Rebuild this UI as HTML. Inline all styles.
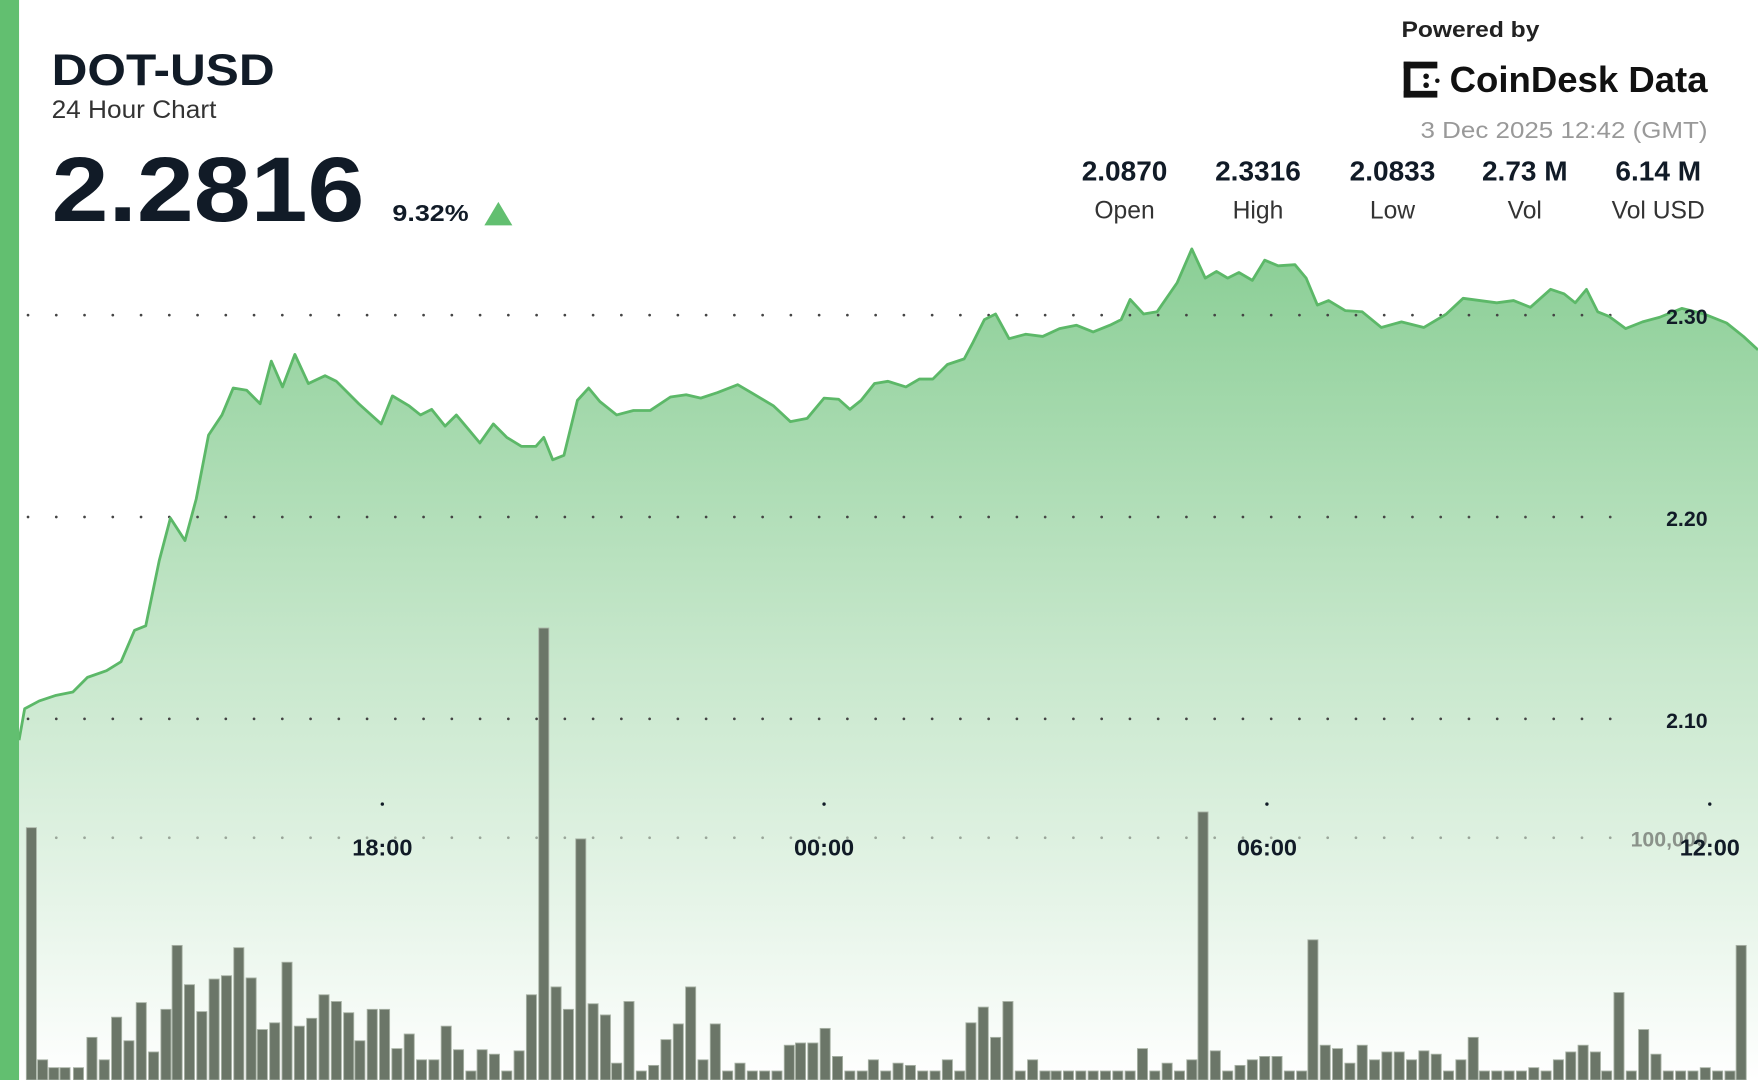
<!DOCTYPE html>
<html><head><meta charset="utf-8"><style>
html,body{margin:0;padding:0;background:#fff;}
svg{display:block;}
text{font-family:"Liberation Sans",sans-serif;}
</style></head><body>
<svg id="s" width="1758" height="1080" viewBox="0 0 1568 963" preserveAspectRatio="none" xmlns="http://www.w3.org/2000/svg">
<defs>
<linearGradient id="fill" x1="0" y1="220" x2="0" y2="963" gradientUnits="userSpaceOnUse">
<stop offset="0" stop-color="#80ca8c" stop-opacity="0.92"/>
<stop offset="0.5" stop-color="#c2e5c7" stop-opacity="0.9"/>
<stop offset="1" stop-color="#ffffff" stop-opacity="1"/>
</linearGradient>
</defs>
<rect width="1568" height="963" fill="#fff"/>
<path id="area" fill="url(#fill)"/>
<g id="grid"></g>
<g id="bars"></g>
<path id="line" fill="none" stroke="#5cb868" stroke-width="2.5" stroke-linejoin="round"/>
<rect x="0" y="0" width="17" height="963" fill="#62bf70"/>
<g fill="#111b27" font-weight="bold" font-size="19" text-anchor="end">
<text x="1523" y="289">2.30</text><text x="1523" y="469">2.20</text><text x="1523" y="649">2.10</text>
</g>
<text x="1523" y="755" text-anchor="end" font-size="19" font-weight="bold" fill="#8a928a">100,000</text>
<g fill="#111b27" font-weight="bold" font-size="21" text-anchor="middle">
<text x="341" y="763">18:00</text><text x="735" y="763">00:00</text><text x="1130" y="763">06:00</text><text x="1525" y="763">12:00</text>
</g>
<g fill="#111b27"><circle cx="341" cy="717" r="1.5"/><circle cx="735" cy="717" r="1.5"/><circle cx="1130" cy="717" r="1.5"/><circle cx="1525" cy="717" r="1.5"/></g>
<text x="46" y="76" font-size="40" font-weight="bold" fill="#111b27" textLength="199" lengthAdjust="spacingAndGlyphs">DOT-USD</text>
<text x="46" y="105" font-size="22" fill="#333" textLength="147" lengthAdjust="spacingAndGlyphs">24 Hour Chart</text>
<text x="46" y="197" font-size="82" font-weight="bold" fill="#111b27" textLength="279" lengthAdjust="spacingAndGlyphs">2.2816</text>
<text x="350" y="197" font-size="21" font-weight="bold" fill="#111b27" textLength="68" lengthAdjust="spacingAndGlyphs">9.32%</text>
<polygon points="432,201 457,201 444.5,180" fill="#62bf70"/>
<text x="1250" y="33" font-size="20" font-weight="bold" fill="#222" textLength="123" lengthAdjust="spacingAndGlyphs">Powered by</text>
<g fill="#111">
<rect x="1252" y="55" width="6" height="32"/><rect x="1252" y="55" width="30" height="6"/><rect x="1252" y="81" width="30" height="6"/>
<circle cx="1272" cy="68" r="2.5"/><circle cx="1272" cy="76" r="2.5"/><circle cx="1282" cy="72" r="2"/>
</g>
<text x="1293" y="82" font-size="32" font-weight="bold" fill="#111" textLength="230" lengthAdjust="spacingAndGlyphs">CoinDesk Data</text>
<text x="1523" y="123" text-anchor="end" font-size="21" fill="#999" textLength="256" lengthAdjust="spacingAndGlyphs">3 Dec 2025 12:42 (GMT)</text>
<g text-anchor="middle" fill="#111b27">
<g font-size="25" font-weight="bold">
<text x="1003" y="161">2.0870</text><text x="1122" y="161">2.3316</text><text x="1242" y="161">2.0833</text><text x="1360" y="161">2.73 M</text><text x="1479" y="161">6.14 M</text></g>
<g font-size="22" fill="#333">
<text x="1003" y="195">Open</text><text x="1122" y="195">High</text><text x="1242" y="195">Low</text><text x="1360" y="195">Vol</text><text x="1479" y="195">Vol USD</text></g>
</g>
</svg>
<script>
var P=[17,660,22,632,35,625,50,620,65,617,78,604,95,598,108,590,120,562,130,558,142,500,152,462,165,482,175,445,186,388,198,370,208,346,220,348,232,360,242,322,252,345,263,316,275,342,290,335,300,340,320,360,340,378,350,353,365,362,375,370,385,365,397,380,407,370,418,383,428,395,440,378,452,390,465,398,478,398,485,390,493,410,503,406,515,357,525,346,535,358,550,370,565,366,580,366,598,354,612,352,625,355,640,350,658,343,670,350,690,362,705,376,720,373,735,355,748,356,758,365,768,357,780,342,792,340,808,345,820,338,832,338,845,325,860,320,868,305,878,285,888,280,900,302,915,298,930,300,945,293,960,290,975,296,990,290,1000,285,1008,267,1020,280,1032,278,1050,252,1063,222,1075,248,1085,242,1095,248,1105,243,1117,250,1128,232,1140,237,1155,236,1165,248,1175,272,1185,268,1200,277,1215,278,1232,292,1250,287,1270,292,1290,280,1305,266,1320,268,1335,270,1350,268,1365,274,1383,258,1395,262,1405,270,1415,258,1425,278,1435,282,1450,293,1465,287,1480,283,1500,275,1520,280,1540,288,1555,300,1568,312];
var d="";for(var i=0;i<P.length;i+=2)d+=(i?"L":"M")+P[i]+","+P[i+1];
document.getElementById("line").setAttribute("d",d);
document.getElementById("area").setAttribute("d",d+"L1568,963L17,963Z");
var g=document.getElementById("grid"),h="";
[281,461,641,747].forEach(function(y){for(var x=25;x<1460;x+=25.2)h+='<circle cx="'+x+'" cy="'+y+'" r="1.2" fill="'+(y==747?'#9aa69a':'#444')+'"/>';});
g.innerHTML=h;
var B=[28,738,38,945,48,952,58,952,70,952,82,925,93,945,104,907,115,928,126,894,137,938,148,900,158,843,169,878,180,902,191,873,202,870,213,845,224,872,234,918,245,912,256,858,267,915,278,908,289,887,300,893,311,903,321,928,332,900,343,900,354,935,365,922,376,945,387,945,398,915,409,936,420,955,430,936,441,940,452,955,463,937,474,887,485,560,496,880,507,900,518,748,529,895,540,905,550,948,561,893,572,955,583,950,594,927,605,913,616,880,627,945,638,913,649,955,660,948,671,955,682,955,693,955,704,932,714,930,725,930,736,917,747,942,758,955,769,955,779,945,790,955,801,948,812,950,823,955,834,955,845,945,856,955,866,912,877,898,888,925,899,893,910,955,921,945,932,955,942,955,953,955,964,955,975,955,986,955,997,955,1008,955,1019,935,1030,955,1041,948,1052,955,1063,945,1073,724,1084,937,1095,955,1106,950,1117,945,1128,942,1139,942,1150,955,1161,955,1171,838,1182,932,1193,935,1204,948,1215,932,1226,945,1237,938,1248,938,1259,945,1270,937,1281,940,1292,955,1303,945,1314,925,1324,955,1335,955,1346,955,1357,955,1368,952,1379,955,1390,945,1401,938,1412,932,1423,938,1433,955,1444,885,1455,955,1466,918,1477,940,1488,955,1499,955,1510,955,1521,952,1532,955,1543,955,1553,843];
var b="";for(var j=0;j<B.length;j+=2)b+='<rect x="'+(B[j]-4.5)+'" y="'+B[j+1]+'" width="9" height="'+(963-B[j+1])+'" fill="#6b7668" stroke="#a9b3a6" stroke-width="0.8"/>';
document.getElementById("bars").innerHTML=b;
</script>
</body></html>
